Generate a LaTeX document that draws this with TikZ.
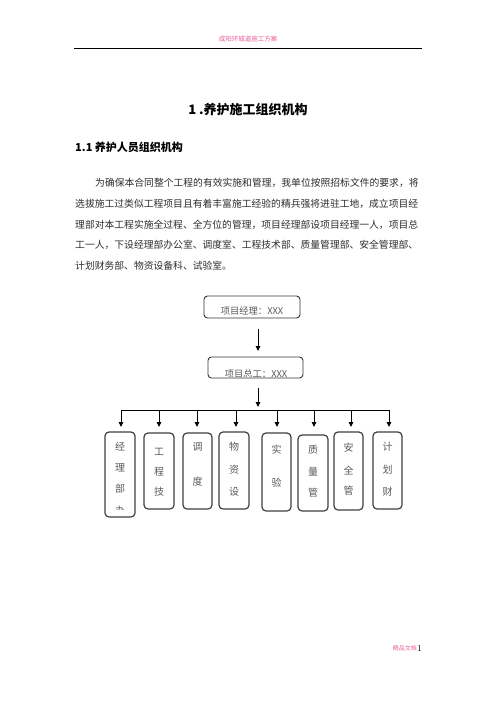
\documentclass[tikz,border=0pt]{standalone}
\usepackage{fontspec}
\newfontfamily\cjk{Noto Sans CJK SC}
\usetikzlibrary{arrows.meta}
\definecolor{hdrpink}{RGB}{236,96,156}
\definecolor{bodygray}{RGB}{45,45,45}
\definecolor{boxtext}{RGB}{90,90,90}
\tikzset{
  bodyline/.style={anchor=west,inner sep=0pt,font=\cjk\fontsize{9.8}{10}\selectfont,text=bodygray},
  topbox/.style={draw=black!80,line width=0.9pt,rounded corners=3.5pt,inner sep=0pt},
  dept/.style={draw=black!75,line width=1.2pt,rounded corners=4pt,inner sep=0pt},
  depttext/.style={inner sep=0pt,font=\cjk\fontsize{10}{10}\selectfont,text=boxtext},
  boxlabel/.style={inner sep=0pt,font=\cjk\fontsize{9.3}{10}\selectfont,text=boxtext},
  conn/.style={line width=0.9pt,black},
  arr/.style={conn,-{Triangle[length=5pt,width=4.5pt]}}
}
\begin{document}
\begin{tikzpicture}[x=1pt,y=-1pt]
\useasboundingbox[fill=white] (0,0) rectangle (496,702);
% header
\node[inner sep=0pt,font=\cjk\fontsize{6.5}{7}\selectfont,text=hdrpink] (hdr) at (248,39) {咸阳环城道施工方案};
\coordinate (hl) at (74,48);
\coordinate (hr) at (422,48);
\draw[line width=0.8pt] (hl) -- (hr);
% titles
\node[inner sep=0pt,font=\cjk\bfseries\fontsize{13}{14}\selectfont] (title) at (248,110) {1 .养护施工组织机构};
\node[anchor=west,inner sep=0pt,font=\cjk\bfseries\fontsize{11}{12}\selectfont] (sub) at (75,147) {1.1 养护人员组织机构};
% paragraph
\node[bodyline] (l1) at (95,183) {为确保本合同整个工程的有效实施和管理，我单位按照招标文件的要求，将};
\node[bodyline] (l2) at (75,204) {选拔施工过类似工程项目且有着丰富施工经验的精兵强将进驻工地，成立项目经};
\node[bodyline] (l3) at (75,224.5) {理部对本工程实施全过程、全方位的管理，项目经理部设项目经理一人，项目总};
\node[bodyline] (l4) at (75,245) {工一人，下设经理部办公室、调度室、工程技术部、质量管理部、安全管理部、};
\node[bodyline] (l5) at (75,266) {计划财务部、物资设备科、试验室。};
% top boxes
\node[topbox,minimum width=96pt,minimum height=22pt] (pm) at (252,307) {};
\node[boxlabel] (pmt) at (252,311) {项目经理：XXX};
\node[topbox,minimum width=95pt,minimum height=21pt] (ce) at (255.5,367.5) {};
\begin{scope}
\clip (208,357) rectangle (303,376.5);
\node[boxlabel] (cet) at (256,374) {项目总工：XXX};
\end{scope}
\coordinate (a1s) at (258,329);
\coordinate (a1e) at (258,351);
\draw[arr] (a1s) -- (a1e);
\coordinate (a2s) at (258,388);
\coordinate (a2e) at (258,407);
\draw[arr] (a2s) -- (a2e);
% bus
\coordinate (bl) at (121,410);
\coordinate (br) at (389,410);
\draw[conn] (bl) -- (br);
% department boxes
\node[dept,minimum width=30pt,minimum height=85pt] (d1) at (120,474.5) {};
\node[dept,minimum width=30pt,minimum height=76pt] (d2) at (159,471) {};
\node[dept,minimum width=29pt,minimum height=76pt] (d3) at (197.5,471) {};
\node[dept,minimum width=30pt,minimum height=77pt] (d4) at (234,470.5) {};
\node[dept,minimum width=29pt,minimum height=78pt] (d5) at (276.5,472) {};
\node[dept,minimum width=30pt,minimum height=76pt] (d6) at (313,473) {};
\node[dept,minimum width=29pt,minimum height=78pt] (d7) at (348.5,471) {};
\node[dept,minimum width=29pt,minimum height=77pt] (d8) at (387.5,470.5) {};
% drops
\foreach \i/\x in {1/121,2/159,3/197,4/236,5/277,6/314,7/351,8/389}{
  \coordinate (t\i) at (\x,410);
  \coordinate (e\i) at (\x,427);
  \draw[arr] (t\i) -- (e\i);
}
% department texts
\node[depttext] (c11) at (120,447) {经};
\node[depttext] (c12) at (120,468) {理};
\node[depttext] (c13) at (120,489) {部};
\begin{scope}
\clip (106,500) rectangle (134,509.5);
\node[depttext] (c14) at (120,511) {办};
\end{scope}
\node[depttext] (c21) at (159,452) {工};
\node[depttext] (c22) at (159,472) {程};
\node[depttext] (c23) at (159,492) {技};
\node[depttext] (c31) at (197.5,447) {调};
\node[depttext] (c32) at (197.5,482) {度};
\node[depttext] (c41) at (234,447) {物};
\node[depttext] (c42) at (234,470) {资};
\node[depttext] (c43) at (234,492) {设};
\node[depttext] (c51) at (276.5,450) {实};
\node[depttext] (c52) at (276.5,483) {验};
\node[depttext] (c61) at (313,450) {质};
\node[depttext] (c62) at (313,472) {量};
\node[depttext] (c63) at (313,493) {管};
\node[depttext] (c71) at (348.5,448) {安};
\node[depttext] (c72) at (348.5,470) {全};
\node[depttext] (c73) at (348.5,491) {管};
\node[depttext] (c81) at (387.5,447) {计};
\node[depttext] (c82) at (387.5,470) {划};
\node[depttext] (c83) at (387.5,492) {财};
% footer
\node[anchor=east,inner sep=0pt,font=\cjk\fontsize{6}{7}\selectfont,text=hdrpink] (ft) at (417,648) {精品文档};
\node[anchor=west,inner sep=0pt,font=\fontsize{9}{10}\selectfont] (pg) at (ft.east) {1};
\end{tikzpicture}
\end{document}
